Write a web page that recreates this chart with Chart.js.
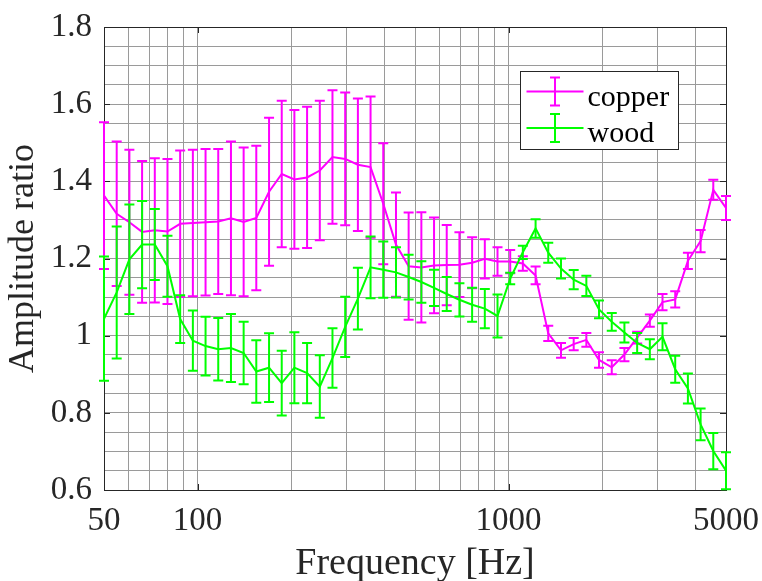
<!DOCTYPE html>
<html>
<head>
<meta charset="utf-8">
<script src="https://cdn.jsdelivr.net/npm/chart.js@4.4.0/dist/chart.umd.min.js"></script>
<style>
  html, body { margin: 0; padding: 0; background: #fff; }
  #wrap { width: 762px; height: 581px; }
</style>
</head>
<body>
<div id="wrap"><canvas id="chart" width="762" height="581"></canvas></div>
<script>
// measurement frequencies [Hz]
var freq = [50, 54.93, 60.34, 66.29, 72.83, 80.0, 87.88, 96.54, 106.05, 116.5,
    128.0, 140.6, 154.4, 169.7, 186.4, 204.7, 224.9, 247.1, 271.4, 298.2,
    327.6, 359.8, 395.3, 434.3, 477.0, 524.1, 575.7, 632.4, 694.7, 763.2,
    838.4, 921.0, 1011.8, 1111, 1221, 1341, 1474, 1619, 1778, 1953,
    2146, 2357, 2590, 2845, 3125, 3433, 3771, 4143, 4551, 5000];

var copperMean = [1.363, 1.316, 1.294, 1.269, 1.273, 1.270, 1.290, 1.292, 1.294, 1.296,
    1.304, 1.295, 1.305, 1.373, 1.419, 1.405, 1.410, 1.428, 1.463, 1.458,
    1.443, 1.437, 1.342, 1.236, 1.180, 1.177, 1.182, 1.183, 1.184, 1.189,
    1.199, 1.192, 1.192, 1.187, 1.156, 1.006, 0.962, 0.978, 0.989, 0.937,
    0.918, 0.951, 0.995, 1.039, 1.087, 1.094, 1.194, 1.245, 1.378, 1.331];
var copperErr = [0.190, 0.187, 0.188, 0.184, 0.187, 0.188, 0.190, 0.190, 0.190, 0.188,
    0.199, 0.193, 0.187, 0.192, 0.190, 0.180, 0.183, 0.181, 0.173, 0.172,
    0.172, 0.183, 0.157, 0.135, 0.139, 0.143, 0.124, 0.104, 0.084, 0.066,
    0.051, 0.037, 0.030, 0.019, 0.023, 0.020, 0.019, 0.016, 0.018, 0.020,
    0.018, 0.017, 0.015, 0.016, 0.021, 0.021, 0.021, 0.029, 0.026, 0.031];

var woodMean = [1.044, 1.112, 1.198, 1.236, 1.236, 1.180, 1.043, 0.987, 0.973, 0.965,
    0.968, 0.955, 0.907, 0.917, 0.877, 0.917, 0.903, 0.868, 0.942, 1.023,
    1.096, 1.177, 1.171, 1.164, 1.152, 1.139, 1.124, 1.108, 1.093, 1.080,
    1.070, 1.051, 1.148, 1.216, 1.278, 1.215, 1.174, 1.145, 1.129, 1.068,
    1.036, 1.008, 0.981, 0.965, 0.997, 0.913, 0.863, 0.770, 0.701, 0.650];
var woodErr = [0.161, 0.171, 0.142, 0.113, 0.092, 0.079, 0.062, 0.078, 0.076, 0.081,
    0.088, 0.081, 0.081, 0.089, 0.084, 0.092, 0.078, 0.081, 0.077, 0.078,
    0.080, 0.080, 0.073, 0.065, 0.058, 0.054, 0.047, 0.044, 0.043, 0.044,
    0.051, 0.056, 0.015, 0.017, 0.024, 0.026, 0.026, 0.025, 0.026, 0.023,
    0.023, 0.026, 0.026, 0.026, 0.035, 0.035, 0.039, 0.041, 0.047, 0.048];

var xGrid = [50, 60, 70, 80, 90, 100, 200, 300, 400, 500, 600, 700, 800, 900,
    1000, 2000, 3000, 4000, 5000];
var xLabels = [50, 100, 1000, 5000];
var yGrid = [0.6, 0.65, 0.7, 0.75, 0.8, 0.85, 0.9, 0.95, 1, 1.05, 1.1, 1.15, 1.2,
    1.25, 1.3, 1.35, 1.4, 1.45, 1.5, 1.55, 1.6, 1.65, 1.7, 1.75, 1.8];
var yLabels = [0.6, 0.8, 1, 1.2, 1.4, 1.6, 1.8];

var serif = "'Liberation Serif', 'Times New Roman', serif";
var gridColor = '#9a9a9a';
var axisColor = '#262626';

function points(ys) {
    return freq.map(function (f, i) { return { x: f, y: ys[i] }; });
}

var errorBars = {
    id: 'errorBars',
    beforeDatasetsDraw: function (chart) {
        // axes box and inner tick marks
        var a = chart.chartArea, ctx = chart.ctx;
        var xs = chart.scales.x, ys = chart.scales.y;
        ctx.save();
        ctx.strokeStyle = axisColor;
        ctx.lineWidth = 1;
        ctx.strokeRect(Math.round(a.left) + 0.5, Math.round(a.top) + 0.5,
            Math.round(a.right - a.left), Math.round(a.bottom - a.top));
        ctx.beginPath();
        yLabels.forEach(function (v) {
            var y = Math.round(ys.getPixelForValue(v)) + 0.5;
            ctx.moveTo(a.left, y); ctx.lineTo(a.left + 6, y);
            ctx.moveTo(a.right, y); ctx.lineTo(a.right - 6, y);
        });
        xLabels.forEach(function (v) {
            var x = Math.round(xs.getPixelForValue(v)) + 0.5;
            ctx.moveTo(x, a.bottom); ctx.lineTo(x, a.bottom - 6);
            ctx.moveTo(x, a.top); ctx.lineTo(x, a.top + 6);
        });
        ctx.stroke();
        ctx.restore();
    },
    afterDatasetDraw: function (chart, args) {
        var ds = chart.data.datasets[args.index];
        if (!ds.errors) return;
        var xs = chart.scales.x, ys = chart.scales.y, ctx = chart.ctx;
        ctx.save();
        ctx.strokeStyle = ds.borderColor;
        ctx.lineWidth = 2;
        ctx.beginPath();
        ds.data.forEach(function (p, i) {
            var x = xs.getPixelForValue(p.x);
            var top = ys.getPixelForValue(p.y + ds.errors[i]);
            var bot = ys.getPixelForValue(p.y - ds.errors[i]);
            ctx.moveTo(x, top); ctx.lineTo(x, bot);
            ctx.moveTo(x - 5, top); ctx.lineTo(x + 5, top);
            ctx.moveTo(x - 5, bot); ctx.lineTo(x + 5, bot);
        });
        ctx.stroke();
        ctx.restore();
    },
    afterDraw: function (chart) {
        // legend box, top right inside the axes
        var a = chart.chartArea, ctx = chart.ctx;
        var w = 158, h = 78;
        var left = Math.round(a.right - 48 - w) + 0.5, top = Math.round(a.top + 44) + 0.5;
        ctx.save();
        ctx.fillStyle = '#fff';
        ctx.fillRect(left, top, w, h);
        ctx.strokeStyle = axisColor;
        ctx.lineWidth = 1;
        ctx.strokeRect(left, top, w, h);
        chart.data.datasets.slice().sort(function (p, q) { return q.order - p.order; })
            .forEach(function (ds, k) {
                var cy = top + 20 + k * 36.6;
                var x0 = left + 6, x1 = left + 63, xm = (x0 + x1) / 2;
                ctx.strokeStyle = ds.borderColor;
                ctx.lineWidth = 2;
                ctx.beginPath();
                ctx.moveTo(x0, cy); ctx.lineTo(x1, cy);
                ctx.moveTo(xm, cy - 14); ctx.lineTo(xm, cy + 14);
                ctx.moveTo(xm - 5, cy - 14); ctx.lineTo(xm + 5, cy - 14);
                ctx.moveTo(xm - 5, cy + 14); ctx.lineTo(xm + 5, cy + 14);
                ctx.stroke();
                ctx.fillStyle = '#000';
                ctx.font = '30px ' + serif;
                ctx.textBaseline = 'alphabetic';
                ctx.fillText(ds.label, left + 67, cy + 14);
            });
        ctx.restore();
    }
};

var ctx = document.getElementById('chart').getContext('2d');
new Chart(ctx, {
    type: 'line',
    data: {
        datasets: [{
            label: 'copper',
            data: points(copperMean),
            errors: copperErr,
            borderColor: '#ff00ff',
            borderWidth: 2,
            pointRadius: 0,
            tension: 0,
            order: 1
        }, {
            label: 'wood',
            data: points(woodMean),
            errors: woodErr,
            borderColor: '#00ff00',
            borderWidth: 2,
            pointRadius: 0,
            tension: 0,
            order: 0
        }]
    },
    options: {
        responsive: false,
        animation: false,
        layout: { padding: { left: 0, right: 36, top: 27, bottom: 0 } },
        plugins: { legend: { display: false }, tooltip: { enabled: false } },
        scales: {
            x: {
                type: 'logarithmic',
                min: 50,
                max: 5000,
                afterBuildTicks: function (s) {
                    s.ticks = xGrid.map(function (v) { return { value: v }; });
                },
                afterFit: function (s) {
                    s.height = 91;
                    s.paddingLeft = 0;
                    s.paddingRight = 0;
                },
                ticks: {
                    autoSkip: false,
                    maxRotation: 0,
                    padding: 12,
                    color: axisColor,
                    font: { family: serif, size: 33 },
                    callback: function (v) { return xLabels.indexOf(v) >= 0 ? String(v) : ''; }
                },
                grid: { color: gridColor, drawTicks: false },
                border: { display: false },
                title: {
                    display: true,
                    text: 'Frequency [Hz]',
                    color: axisColor,
                    font: { family: serif, size: 38, lineHeight: 0.9 },
                    padding: 0
                }
            },
            y: {
                min: 0.6,
                max: 1.8,
                afterBuildTicks: function (s) {
                    s.ticks = yGrid.map(function (v) { return { value: v }; });
                },
                afterFit: function (s) {
                    s.width = 104;
                    s.paddingTop = 0;
                    s.paddingBottom = 0;
                },
                ticks: {
                    autoSkip: false,
                    padding: 12,
                    color: axisColor,
                    font: { family: serif, size: 33 },
                    callback: function (v) { return yLabels.indexOf(v) >= 0 ? String(v) : ''; }
                },
                grid: { color: gridColor, drawTicks: false },
                border: { display: false },
                title: {
                    display: true,
                    text: 'Amplitude ratio',
                    color: axisColor,
                    font: { family: serif, size: 36, lineHeight: 1 },
                    padding: { top: 6, bottom: 0 }
                }
            }
        }
    },
    plugins: [errorBars]
});
</script>
</body>
</html>
